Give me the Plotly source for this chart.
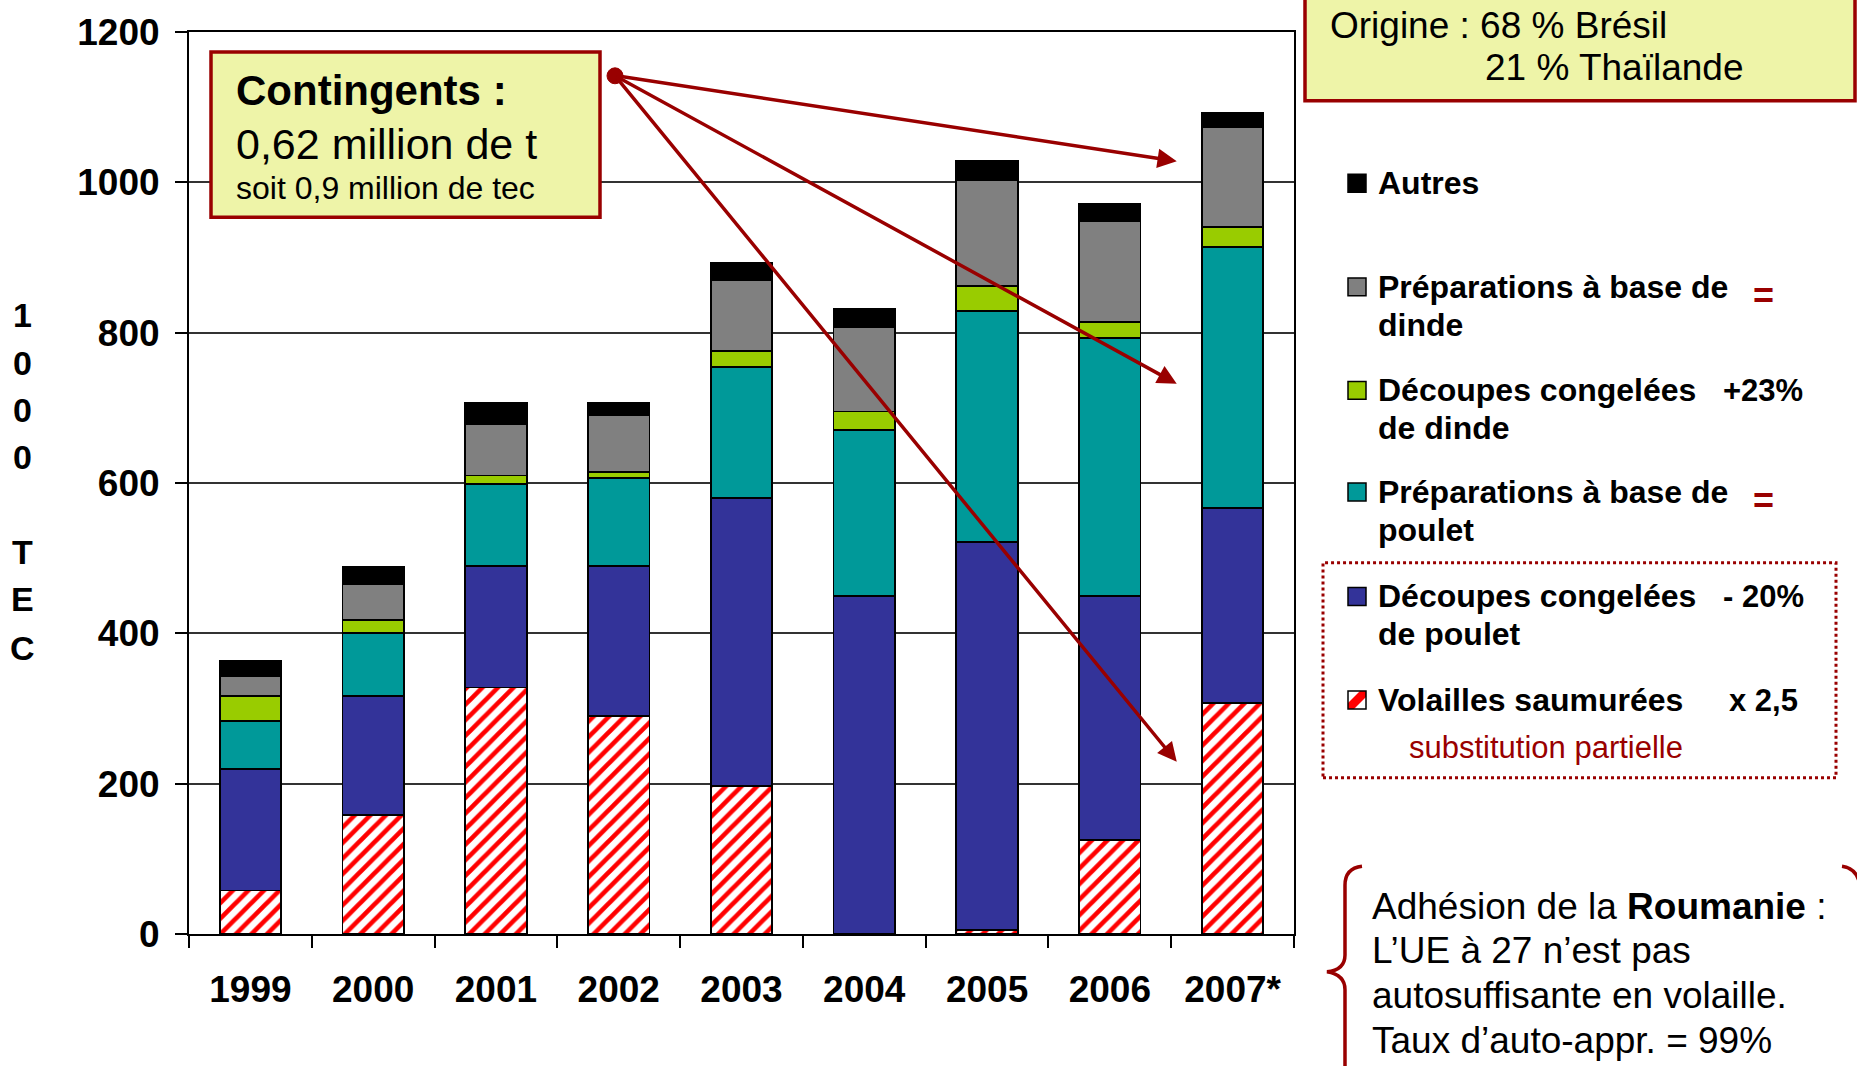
import plotly.graph_objects as go

# ---------------- data ----------------
years = ["1999", "2000", "2001", "2002", "2003", "2004", "2005", "2006", "2007*"]
volailles_saumurees = [58, 158, 328, 290, 197, 0, 5, 125, 307]
decoupes_poulet = [161, 159, 162, 200, 383, 450, 517, 325, 260]
preparations_poulet = [64, 83, 109, 117, 174, 220, 307, 343, 347]
decoupes_dinde = [34, 18, 11, 8, 22, 25, 33, 21, 27]
preparations_dinde = [26, 47, 69, 75, 94, 112, 141, 134, 133]
autres = [20, 23, 27, 16, 23, 25, 25, 23, 18]

y_ticks = [0, 200, 400, 600, 800, 1000, 1200]

series_names = ["Volailles saumurées", "Découpes congelées de poulet",
                "Préparations à base de poulet", "Découpes congelées de dinde",
                "Préparations à base de dinde", "Autres"]
series_values = [volailles_saumurees, decoupes_poulet, preparations_poulet,
                 decoupes_dinde, preparations_dinde, autres]
series_colors = ["#FFFFFF", "#333399", "#009999", "#99CC00", "#808080", "#000000"]

# ---------------- geometry ----------------
W_FIG, H_FIG = 1857, 1066
L, R, T, B = 189, 563, 28, 132
PW = W_FIG - L - R
PH = H_FIG - T - B
FONT = "Liberation Sans, Arial, sans-serif"
DARKRED = "#990000"
BOXFILL = "#EEF4A8"


def px(x):
    return (x - L) / PW


def py(y):
    return (H_FIG - B - y) / PH


fig = go.Figure()
for i, (name, vals, col) in enumerate(zip(series_names, series_values, series_colors)):
    marker = dict(color=col, line=dict(color="#000000", width=1.8))
    if i == 0:
        marker["pattern"] = dict(shape="/", fgcolor="#FF0000", bgcolor="#FFFFFF",
                                 size=11, solidity=0.42, fillmode="replace")
    fig.add_trace(go.Bar(x=years, y=vals, name=name, marker=marker, showlegend=False))

fig.update_layout(
    width=W_FIG, height=H_FIG,
    margin=dict(l=L, r=R, t=T, b=B, pad=0),
    barmode="stack", bargap=0.5,
    plot_bgcolor="#FFFFFF", paper_bgcolor="#FFFFFF",
    font=dict(family=FONT, color="#000000"),
    showlegend=False,
)
fig.update_yaxes(
    range=[0, 1200], tickvals=y_ticks, showgrid=True, gridcolor="#333333", gridwidth=2,
    showline=True, linecolor="#000000", linewidth=2, mirror=True,
    ticks="outside", ticklen=12, tickwidth=2, tickcolor="#000000",
    tickfont=dict(family=FONT, size=37, weight="bold", color="#000000"),
    ticklabelstandoff=8, zeroline=False,
)
fig.update_xaxes(
    type="category", tickson="boundaries",
    showline=True, linecolor="#000000", linewidth=2, mirror=True,
    ticks="outside", ticklen=12, tickwidth=2, tickcolor="#000000",
    tickfont=dict(family=FONT, size=37, weight="bold", color="#000000"),
    ticklabelstandoff=22, showgrid=False,
)

shapes = []
annots = []


def text(x, y, s, size, bold=False, color="#000000", anchor="left"):
    annots.append(dict(xref="paper", yref="paper", x=px(x), y=py(y), text=s,
                       showarrow=False, xanchor=anchor, yanchor="middle",
                       font=dict(family=FONT, size=size, color=color,
                                 weight="bold" if bold else "normal")))


# Contingents box
shapes.append(dict(type="rect", xref="paper", yref="paper", x0=px(211), x1=px(600),
                   y0=py(48), y1=py(214), fillcolor=BOXFILL,
                   line=dict(color=DARKRED, width=3.5), layer="above"))
text(234, 87, "Contingents :", 42, bold=True)
text(234, 140, "0,62 million de t", 43)
text(234, 185, "soit 0,9 million de tec", 32)

# Arrows from the contingent point
arrow_start = (2.969, 1142)
arrow_targets = [(7.545, 1028), (7.545, 732), (7.545, 229)]
for (tx, ty) in arrow_targets:
    annots.append(dict(xref="x", yref="y", axref="x", ayref="y",
                       x=tx, y=ty, ax=arrow_start[0], ay=arrow_start[1], text="",
                       showarrow=True, arrowhead=2, arrowsize=1.1, arrowwidth=3.5,
                       arrowcolor=DARKRED, standoff=0, startstandoff=0))
shapes.append(dict(type="circle", xref="paper", yref="paper",
                   x0=px(607), x1=px(623), y0=py(64), y1=py(80),
                   fillcolor=DARKRED, line=dict(color=DARKRED, width=1), layer="above"))

# Origin box (top right)
shapes.append(dict(type="rect", xref="paper", yref="paper", x0=px(1305), x1=px(1855),
                   y0=py(-10), y1=py(97), fillcolor=BOXFILL,
                   line=dict(color=DARKRED, width=3.5)))
text(1328, 21, "Origine : 68 % Brésil", 37)
text(1483, 64, "21 % Thaïlande", 37)

# Custom legend
leg_rows = [
    (180, ["Autres"], "#000000", None),
    (284, ["Préparations à base de", "dinde"], "#808080", "="),
    (388, ["Découpes congelées", "de dinde"], "#99CC00", "+23%"),
    (490, ["Préparations à base de", "poulet"], "#009999", "="),
    (595, ["Découpes congelées", "de poulet"], "#333399", "- 20%"),
    (699, ["Volailles saumurées"], None, "x 2,5"),
]
SQ0, SQ1 = 1348, 1366
for (yc, lines, col, mark) in leg_rows:
    y0, y1 = yc - 9, yc + 9
    if col is not None:
        shapes.append(dict(type="rect", xref="paper", yref="paper", x0=px(SQ0), x1=px(SQ1),
                           y0=py(y1), y1=py(y0), fillcolor=col,
                           line=dict(color="#000000", width=1.5)))
    else:
        shapes.append(dict(type="rect", xref="paper", yref="paper", x0=px(SQ0), x1=px(SQ1),
                           y0=py(y1), y1=py(y0), fillcolor="#FFFFFF",
                           line=dict(width=0)))
        a, c, b, d = SQ0, SQ1, y0, y1
        pts = [(a, d), (a + 6, d), (c, b + 6), (c, b), (c - 6, b), (a, d - 6)]
        path = "M " + " L ".join(f"{px(X):.5f},{py(Y):.5f}" for X, Y in pts) + " Z"
        shapes.append(dict(type="path", xref="paper", yref="paper", path=path,
                           fillcolor="#FF0000", line=dict(width=0)))
        shapes.append(dict(type="rect", xref="paper", yref="paper", x0=px(SQ0), x1=px(SQ1),
                           y0=py(y1), y1=py(y0), fillcolor="rgba(0,0,0,0)",
                           line=dict(color="#000000", width=1.5)))
    for k, ln in enumerate(lines):
        text(1376, yc + k * 38, ln, 32, bold=True)
    if mark is not None:
        if mark == "=":
            text(1763, yc + 9, "=", 36, bold=True, color=DARKRED, anchor="center")
        else:
            text(1763, yc, mark, 31, bold=True, anchor="center")

text(1407, 747, "substitution partielle", 31, color=DARKRED)
shapes.append(dict(type="rect", xref="paper", yref="paper", x0=px(1323), x1=px(1836),
                   y0=py(777), y1=py(561), fillcolor="rgba(0,0,0,0)",
                   line=dict(color=DARKRED, width=3, dash="dot")))

# Romania note with brace
text(1370, 906, "Adhésion de la <b>Roumanie</b> :", 37)
text(1370, 951, "L’UE à 27 n’est pas", 37)
text(1370, 996, "autosuffisante en volaille.", 37)
text(1370, 1041, "Taux d’auto-appr. = 99%", 37)


def P(X, Y):
    return f"{px(X):.5f},{py(Y):.5f}"


brace = (f"M {P(1362, 866)} Q {P(1345, 868)} {P(1345, 885)} L {P(1345, 955)} "
         f"Q {P(1345, 970)} {P(1327, 972)} Q {P(1345, 975)} {P(1345, 990)} "
         f"L {P(1345, 1075)}")
shapes.append(dict(type="path", xref="paper", yref="paper", path=brace,
                   line=dict(color=DARKRED, width=3.5)))
brace_r = f"M {P(1842, 866)} Q {P(1857, 868)} {P(1860, 885)}"
shapes.append(dict(type="path", xref="paper", yref="paper", path=brace_r,
                   line=dict(color=DARKRED, width=3.5)))

# Vertical y-axis title, stacked characters
for ch, yc in zip(["1", "0", "0", "0", "T", "E", "C"], [312, 360, 408, 455, 550, 598, 647]):
    text(22, yc, ch, 34, bold=True, anchor="center")

fig.update_layout(shapes=shapes, annotations=annots)
fig.write_html(
    "out.html",
    config={"displayModeBar": False},
    post_script="document.body.style.margin='0';document.body.style.padding='0';"
                "document.body.style.overflow='hidden';",
)
